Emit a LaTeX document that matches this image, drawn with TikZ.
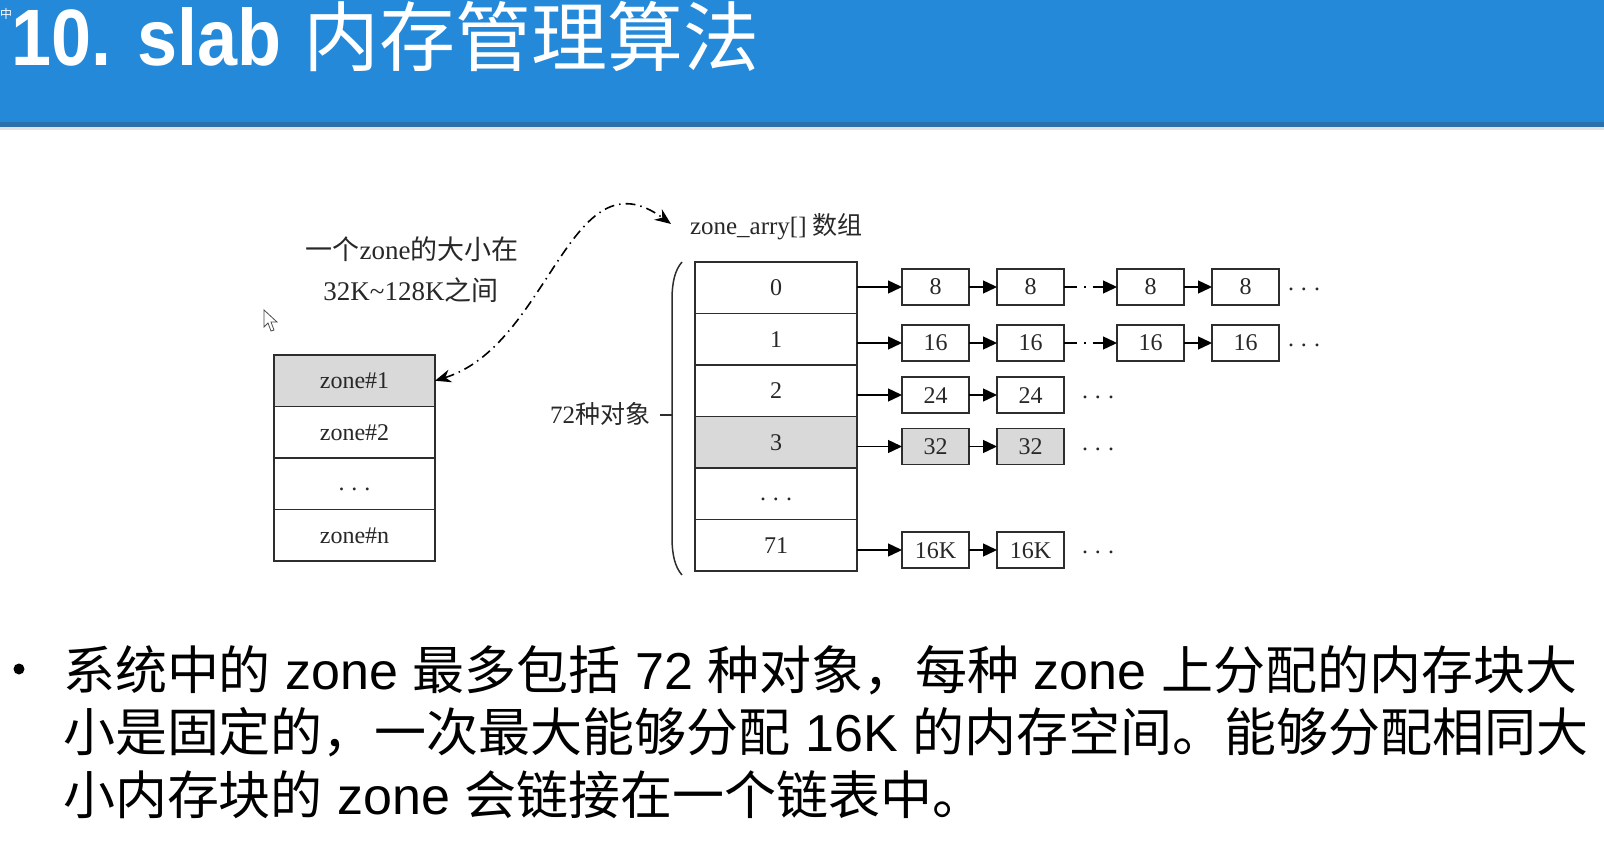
\documentclass[tikz,border=0pt]{standalone}
\usepackage{fontspec}
\usepackage{graphicx}
\setmainfont{Liberation Serif}
\newfontfamily\sansf{Liberation Sans}
\newfontfamily\cjk{Noto Sans CJK SC}
\usetikzlibrary{arrows.meta}
\definecolor{barblue}{RGB}{37,137,218}
\definecolor{bardark}{RGB}{44,112,172}
\definecolor{edge}{RGB}{45,45,45}
\definecolor{cellgray}{RGB}{217,217,217}
\definecolor{txt}{RGB}{40,40,40}
\newcommand{\spreaddots}{\raisebox{-4pt}{.\hspace{7pt}.\hspace{7pt}.}}

\begin{document}
\begin{tikzpicture}[x=1pt,y=-1pt,
  every node/.style={inner sep=0pt, outer sep=0pt},
  dfont/.style={font=\fontsize{24}{28}\selectfont, text=txt},
  cell/.style={draw=edge, line width=1.5pt, minimum width=162pt,
    minimum height=51.5pt, dfont, text height=16pt, text depth=0pt},
  zcell/.style={cell, minimum width=161pt},
  chain/.style={draw=edge, line width=1.4pt, minimum width=67pt,
    minimum height=36pt, dfont, text height=16pt, text depth=0pt},
  grayfill/.style={fill=cellgray},
  dotsnode/.style={dfont, text height=7pt, text depth=0pt},
  arr/.style={draw=black, line width=1.4pt, -{Triangle[length=14pt,width=13pt]}},
  dotarr/.style={arr, dash pattern=on 13pt off 7pt on 1.5pt off 7pt on 40pt},
  curvearr/.style={draw=black, line width=1.6pt,
    dash pattern=on 10pt off 5pt on 1.5pt off 5pt,
    {Stealth[length=16pt,width=13pt]}-{Stealth[length=16pt,width=13pt]}},
  bodytext/.style={font=\sansf\fontsize{52}{62}\selectfont, anchor=base west, text=black}
]
\useasboundingbox (0,0) rectangle (1604,850);
\fill[white] (0,0) rectangle (1604,850);

% title bar
\fill[barblue] (0,0) rectangle (1604,122);
\fill[bardark] (0,122) rectangle (1604,127);
\fill[gray!22] (0,127) rectangle (1604,130);
\node[text=white, font=\cjk\fontsize{12}{12}\selectfont] (ime) at (6,14) {中};
\node[anchor=base west, text=white, font=\sansf\bfseries\fontsize{80}{80}\selectfont]
  (title) at (11,66) {\scalebox{0.9}[1]{10. slab}};
\node[anchor=base west, text=white, font=\cjk\fontsize{76}{76}\selectfont]
  (titlecjk) at (303,66) {内存管理算法};

% pointer
\draw[line width=0.8pt, fill=white, draw=black!70]
  (264,310) -- (264,327) -- (268,323) -- (271,331) -- (274,330)
  -- (271,322) -- (277,322) -- cycle;

% zone size note
\node[dfont, font=\fontsize{27}{30}\selectfont] (note1) at (412,249) {{\cjk 一个}zone{\cjk 的大小在}};
\node[dfont, font=\fontsize{27}{30}\selectfont] (note2) at (411,290) {32K\textasciitilde128K{\cjk 之间}};

% list of zones
\node[zcell, grayfill] (z1) at (354.5,380.75) {zone\#1};
\node[zcell] (z2) at (354.5,432.25) {zone\#2};
\node[zcell, text height=6pt] (z3) at (354.5,483.75) {\spreaddots};
\node[zcell] (z4) at (354.5,535.25) {zone\#n};

% zone_arry[] array
\node[dfont, anchor=west, font=\fontsize{25}{28}\selectfont] (zarr) at (690,227) {zone\_arry[] {\cjk 数组}};
\coordinate (zarrtip) at (671,224);
\node[cell] (a0) at (776,287.75) {0};
\node[cell] (a1) at (776,339.25) {1};
\node[cell] (a2) at (776,390.75) {2};
\node[cell, grayfill] (a3) at (776,442.25) {3};
\node[cell, text height=6pt] (a4) at (776,493.75) {\spreaddots};
\node[cell] (a5) at (776,545.25) {71};

% brace for 72 object kinds
\draw[draw=edge, line width=1.5pt]
  (682,262) .. controls (675,270) and (672,282) .. (672,300) -- (672,537)
  .. controls (672,555) and (675,567) .. (682,575);
\draw[draw=edge, line width=1.5pt] (660,415) -- (672,415);
\node[dfont, anchor=east, font=\fontsize{25}{28}\selectfont] (kinds) at (650,414) {72{\cjk 种对象}};

% curved pointer between zone and array
\draw[curvearr] (z1.east) .. controls (550,345) and (570,150) .. (zarrtip);

% chains
\foreach \r/\y/\v in {0/287/8, 1/343/16} {
  \node[chain] (c\r a) at (935.5,\y) {\v};
  \node[chain] (c\r b) at (1030.5,\y) {\v};
  \node[chain] (c\r c) at (1150.5,\y) {\v};
  \node[chain] (c\r d) at (1245.5,\y) {\v};
  \node[dotsnode] (e\r) at (1304,\y) {.\hspace{7pt}.\hspace{7pt}.};
  \draw[arr] (a\r.east |- c\r a.west) -- (c\r a.west);
  \draw[arr] (c\r a) -- (c\r b);
  \draw[dotarr] (c\r b) -- (c\r c);
  \draw[arr] (c\r c) -- (c\r d);
}
\foreach \r/\y/\v/\f in {2/395/24/white, 3/446.5/32/cellgray, 5/550/16K/white} {
  \node[chain, fill=\f] (c\r a) at (935.5,\y) {\v};
  \node[chain, fill=\f] (c\r b) at (1030.5,\y) {\v};
  \node[dotsnode] (e\r) at (1098,\y) {.\hspace{7pt}.\hspace{7pt}.};
  \draw[arr] (a\r.east |- c\r a.west) -- (c\r a.west);
  \draw[arr] (c\r a) -- (c\r b);
}

% bullet text
\fill (19,669) circle (5.5);
\node[bodytext] (l1) at (63,689) {{\cjk 系统中的} zone {\cjk 最多包括} 72 {\cjk 种对象，每种} zone {\cjk 上分配的内存块大}};
\node[bodytext] (l2) at (63,751.5) {{\cjk 小是固定的，一次最大能够分配} 16K {\cjk 的内存空间。能够分配相同大}};
\node[bodytext] (l3) at (63,814) {{\cjk 小内存块的} zone {\cjk 会链接在一个链表中。}};
\end{tikzpicture}
\end{document}
